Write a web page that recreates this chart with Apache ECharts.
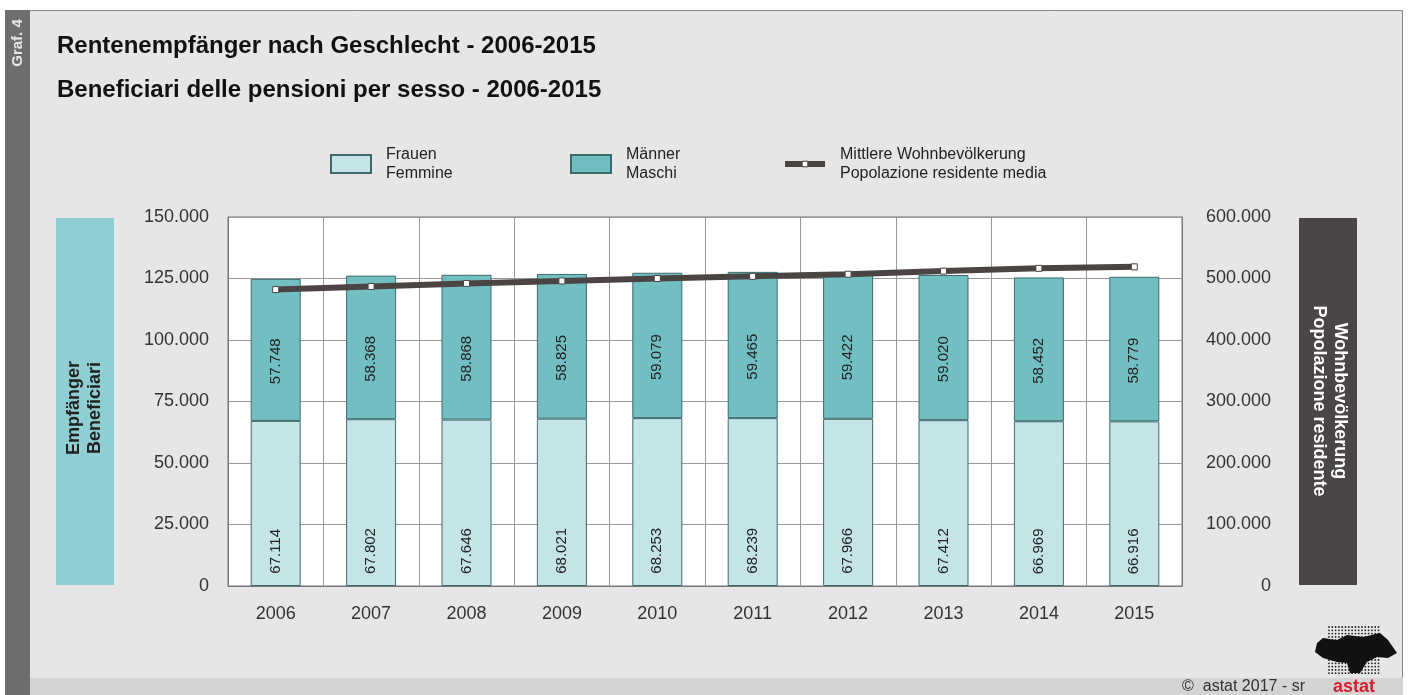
<!DOCTYPE html>
<html>
<head>
<meta charset="utf-8">
<script src="https://cdn.jsdelivr.net/npm/echarts@6/dist/echarts.min.js"></script>
<style>
html,body{margin:0;padding:0;background:#ffffff;}
#chart{width:1408px;height:695px;}
</style>
</head>
<body>
<div id="chart"></div>
<script>
const years = ['2006','2007','2008','2009','2010','2011','2012','2013','2014','2015'];
const frauen = [67114, 67802, 67646, 68021, 68253, 68239, 67966, 67412, 66969, 66916];
const maenner = [57748, 58368, 58868, 58825, 59079, 59465, 59422, 59020, 58452, 58779];
const population = [482000, 487000, 492000, 496000, 500000, 503500, 507000, 512000, 516500, 519000];

const titleDe = 'Rentenempfänger nach Geschlecht - 2006-2015';
const titleIt = 'Beneficiari delle pensioni per sesso - 2006-2015';
const legendNames = {
  'Frauen': 'Frauen\nFemmine',
  'Männer': 'Männer\nMaschi',
  'Mittlere Wohnbevölkerung': 'Mittlere Wohnbevölkerung\nPopolazione residente media'
};
const leftAxisTitle = 'Empfänger\nBeneficiari';
const rightAxisTitle = 'Wohnbevölkerung\nPopolazione residente';

function fmt(v){ return String(v).replace(/\B(?=(\d{3})+(?!\d))/g, '.'); }

const FONT = '"Liberation Sans", Arial, sans-serif';
const LINE_COLOR = '#4a4442';
const chart = echarts.init(document.getElementById('chart'), null, {renderer:'canvas'});

// decorative logo dots
const logoDots = [];
for (let i = 0; i < 16; i++) {
  for (let j = 0; j < 15; j++) {
    logoDots.push({type:'circle', silent:true, z:1,
      shape:{cx:1329 + i*3.3, cy:627 + j*3.3, r:0.9}, style:{fill:'#222'}});
  }
}

function legendCfg(name, left, extra){
  return Object.assign({
    data:[name], left:left, top:140, orient:'horizontal',
    itemWidth:40, itemHeight:18, icon:'rect',
    formatter: n => legendNames[n],
    textStyle:{fontFamily:FONT, fontSize:16, lineHeight:19, color:'#222', padding:[0,0,0,10]},
    selectedMode:false
  }, extra || {});
}

const option = {
  animation:false,
  backgroundColor:'#ffffff',
  textStyle:{fontFamily:FONT},
  graphic:[
    {type:'rect', silent:true, z:-10, shape:{x:5.5,y:10.5,width:1397,height:690}, style:{fill:'#e6e6e6', stroke:'#8a8a8a', lineWidth:1}},
    {type:'rect', silent:true, z:-9, shape:{x:30,y:678,width:1373,height:17}, style:{fill:'#d4d4d4'}},
    {type:'rect', silent:true, z:-9, shape:{x:5,y:10,width:25,height:685}, style:{fill:'#6e6e6e'}},
    {type:'text', silent:true, x:18, y:43, rotation:Math.PI/2,
      style:{text:'Graf. 4', fill:'#e8e8e8', font:'bold 15px '+FONT, align:'center', verticalAlign:'middle'}},
    {type:'text', silent:true, x:57, y:46,
      style:{text:titleDe, fill:'#111', font:'bold 24px '+FONT, align:'left', verticalAlign:'middle'}},
    {type:'text', silent:true, x:57, y:90,
      style:{text:titleIt, fill:'#111', font:'bold 24px '+FONT, align:'left', verticalAlign:'middle'}},
    {type:'rect', silent:true, z:-5, shape:{x:56,y:218,width:58,height:367}, style:{fill:'#8fcfd3'}},
    {type:'text', silent:true, x:85, y:408, rotation:Math.PI/2,
      style:{text:leftAxisTitle, fill:'#222', font:'bold 18px '+FONT, lineHeight:21, align:'center', verticalAlign:'middle'}},
    {type:'rect', silent:true, z:-5, shape:{x:1299,y:218,width:58,height:367}, style:{fill:'#4b4645'}},
    {type:'text', silent:true, x:1329, y:401, rotation:-Math.PI/2,
      style:{text:rightAxisTitle, fill:'#ffffff', font:'bold 18px '+FONT, lineHeight:21, align:'center', verticalAlign:'middle'}},
    {type:'text', silent:true, x:1305, y:687,
      style:{text:'©  astat 2017 - sr', fill:'#333', font:'16px '+FONT, align:'right', verticalAlign:'middle'}},
    {type:'text', silent:true, x:1354, y:687,
      style:{text:'astat', fill:'#d3202e', font:'bold 18px '+FONT, align:'center', verticalAlign:'middle'}},
    ...logoDots,
    {type:'polygon', silent:true, z:2, shape:{points:[
      [1317,643],[1323,638],[1337,640],[1347,635],[1363,637],[1380,633],[1388,640],[1397,653],
      [1388,658],[1377,657],[1367,662],[1360,673],[1350,673],[1347,663],[1337,662],[1323,658],[1315,652]
    ]}, style:{fill:'#111'}}
  ],
  legend:[
    legendCfg('Frauen', 325),
    legendCfg('Männer', 565),
    legendCfg('Mittlere Wohnbevölkerung', 777, {
      icon:null, itemHeight:7,
      lineStyle:{color:LINE_COLOR, width:6},
      itemStyle:{color:'#ffffff', borderColor:LINE_COLOR, borderWidth:1}
    })
  ],
  grid:{left:228, right:226, top:217, bottom:109, show:true, backgroundColor:'#ffffff', borderColor:'#777', borderWidth:1},
  xAxis:{
    type:'category', data:years, boundaryGap:true,
    axisLine:{show:true, lineStyle:{color:'#777'}},
    axisTick:{show:false},
    axisLabel:{fontSize:18, color:'#333', margin:19, fontFamily:FONT},
    splitLine:{show:true, interval:0, lineStyle:{color:'#999', width:1}}
  },
  yAxis:[
    {type:'value', min:0, max:150000, interval:25000,
      axisLine:{show:true, lineStyle:{color:'#777'}}, axisTick:{show:false},
      axisLabel:{fontSize:18, color:'#333', margin:19, formatter:fmt, fontFamily:FONT},
      splitLine:{show:true, lineStyle:{color:'#999', width:1}}},
    {type:'value', min:0, max:600000, interval:100000, position:'right',
      axisLine:{show:true, lineStyle:{color:'#777'}}, axisTick:{show:false},
      axisLabel:{fontSize:18, color:'#333', margin:89, align:'right', formatter:fmt, fontFamily:FONT},
      splitLine:{show:false}}
  ],
  series:[
    {name:'Frauen', type:'bar', stack:'total', data:frauen, barWidth:50,
      itemStyle:{color:'#c4e4e8', borderColor:'#3e6a6c', borderWidth:1},
      label:{show:true, position:['50%','79%'], rotate:90, align:'center', verticalAlign:'middle',
        formatter:p=>fmt(p.value), fontSize:15, color:'#222', fontFamily:FONT}},
    {name:'Männer', type:'bar', stack:'total', data:maenner, barWidth:50,
      itemStyle:{color:'#72bfc3', borderColor:'#3e6a6c', borderWidth:1},
      label:{show:true, position:['50%','58%'], rotate:90, align:'center', verticalAlign:'middle',
        formatter:p=>fmt(p.value), fontSize:15, color:'#222', fontFamily:FONT}},
    {name:'Mittlere Wohnbevölkerung', type:'line', yAxisIndex:1, data:population, z:5,
      symbol:'rect', symbolSize:6, showAllSymbol:true,
      lineStyle:{color:LINE_COLOR, width:6},
      itemStyle:{color:'#ffffff', borderColor:LINE_COLOR, borderWidth:1}}
  ]
};
chart.setOption(option);
</script>
</body>
</html>
